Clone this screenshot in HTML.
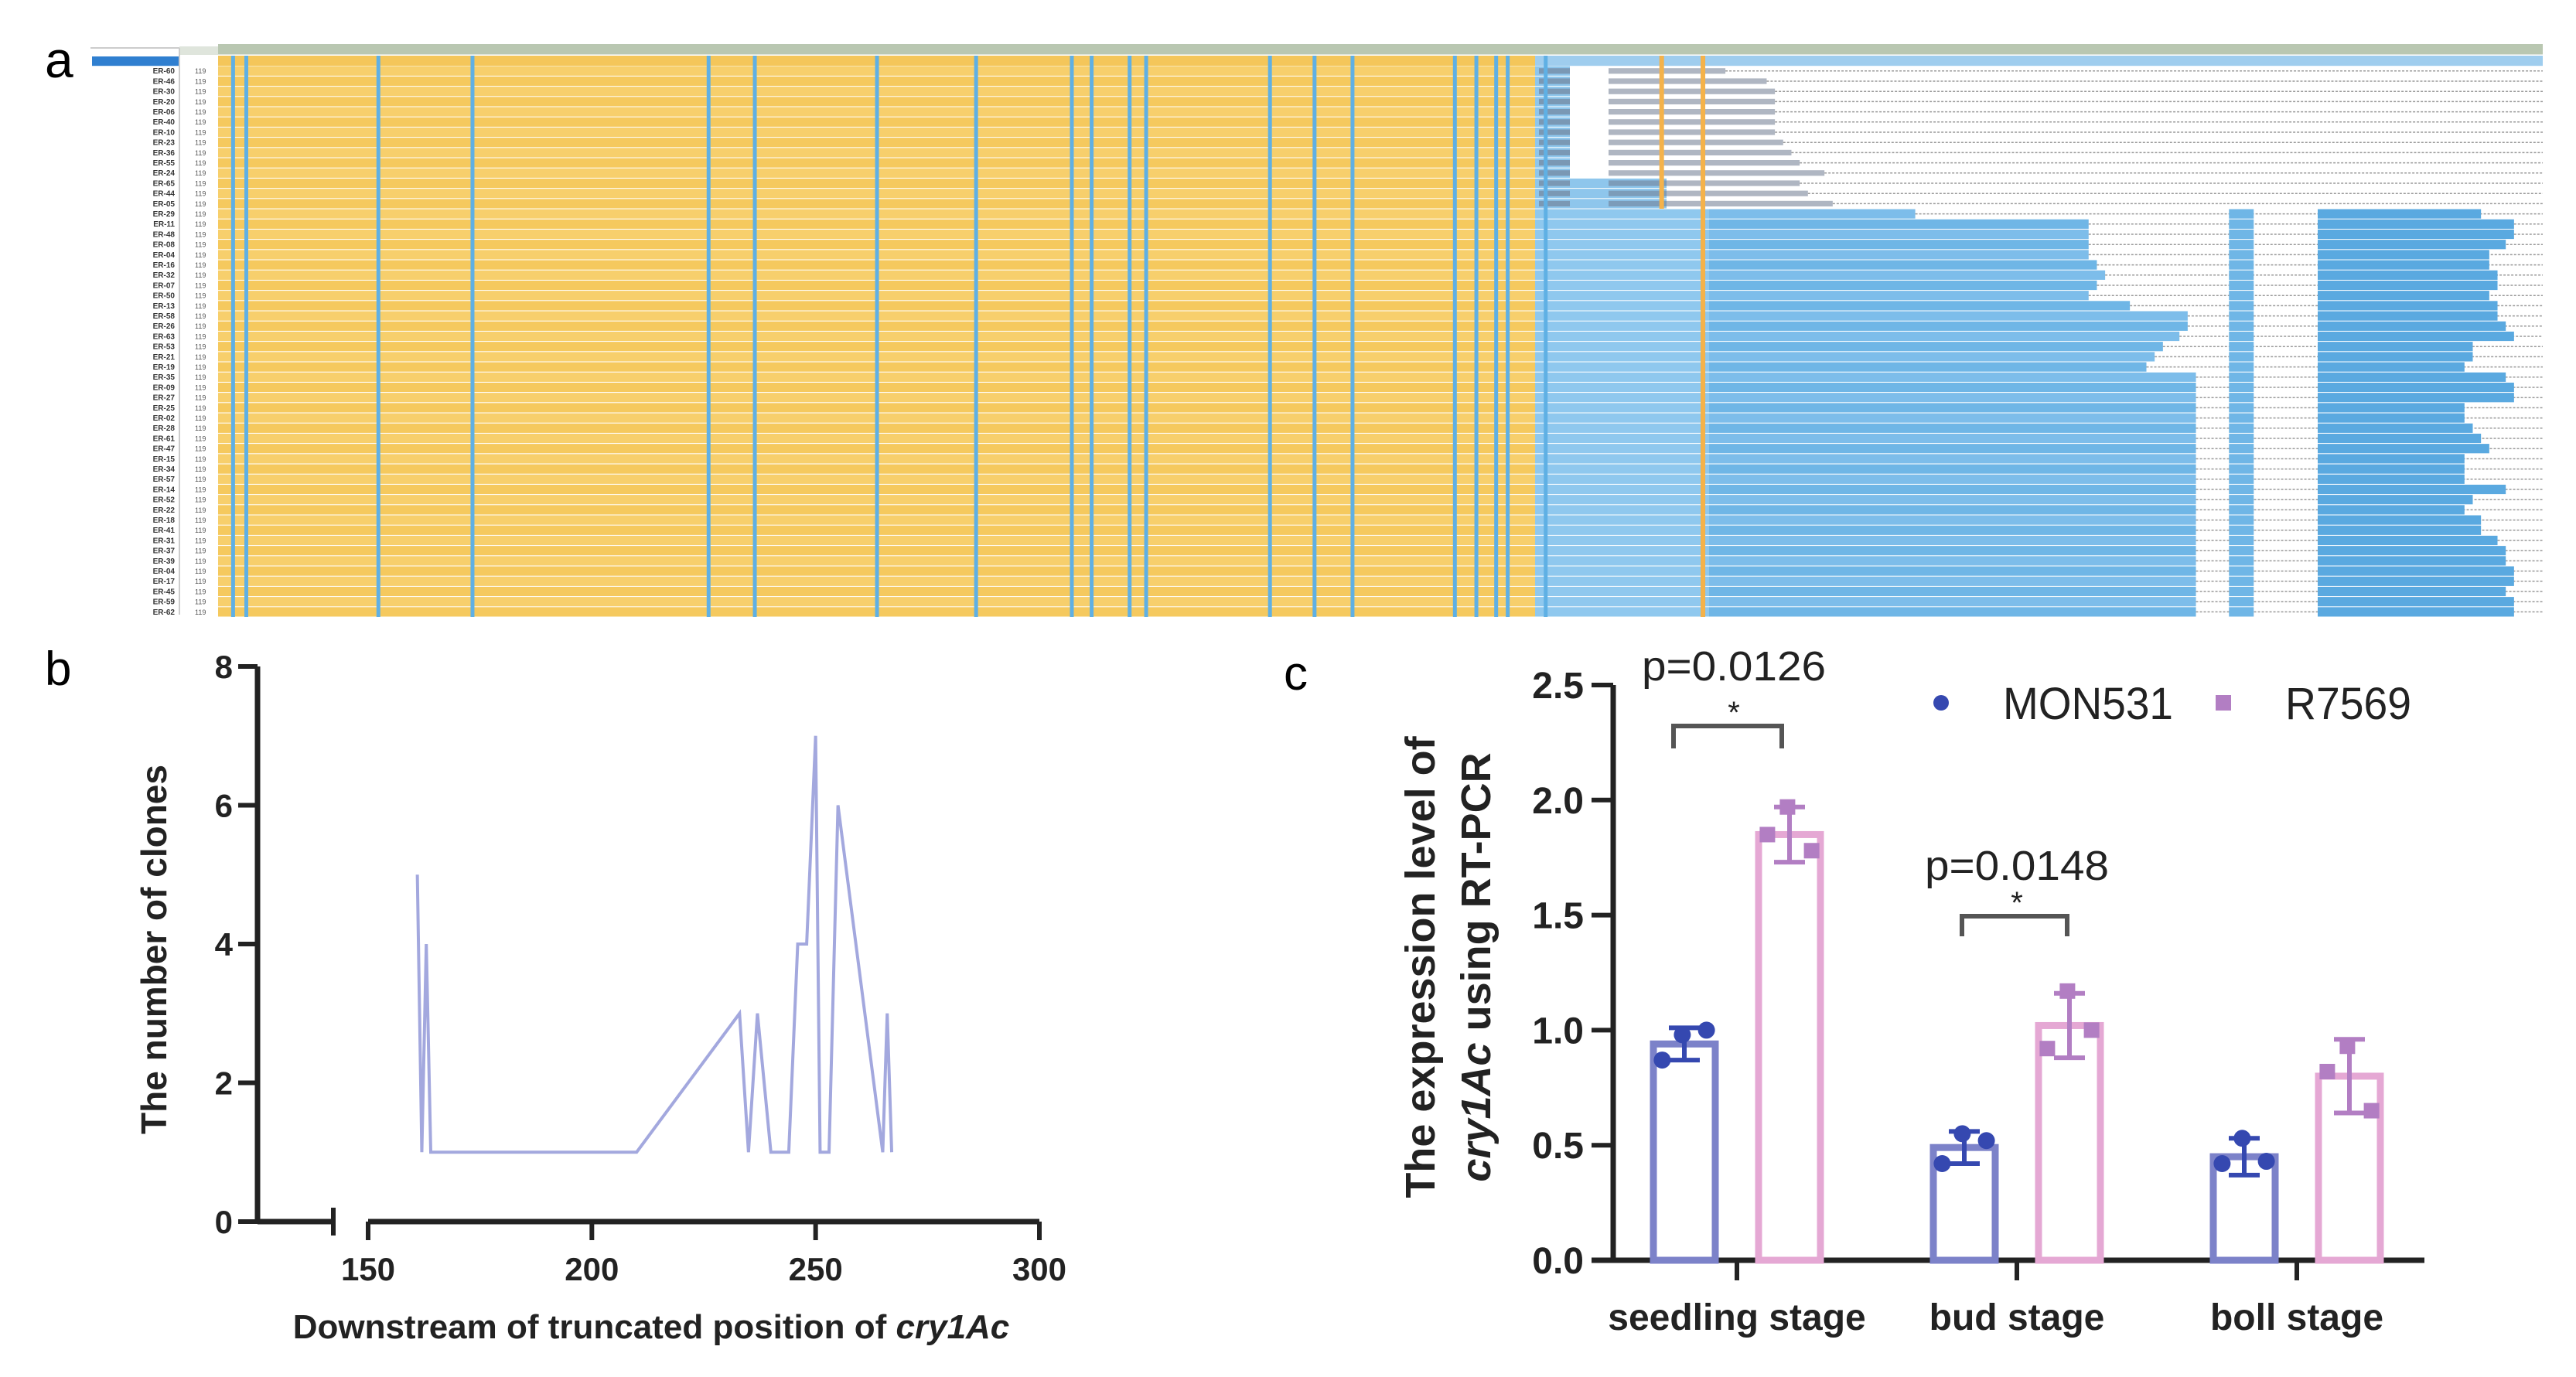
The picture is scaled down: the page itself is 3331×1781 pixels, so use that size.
<!DOCTYPE html>
<html><head><meta charset="utf-8"><style>
html,body{margin:0;padding:0;background:#fff;}
svg{display:block;font-family:"Liberation Sans",Arial,sans-serif;}
</style></head><body>
<svg id="fig" width="3331" height="1781" viewBox="0 0 3331 1781" xmlns="http://www.w3.org/2000/svg">
<g id="pa"></g>
<g id="pb"></g>
<g id="pc"></g>
<text x="58" y="100" font-size="66">a</text>
<text x="58" y="886" font-size="62">b</text>
<text x="1660" y="892" font-size="62">c</text>
</svg>
<script>
// ---------- Panel a data ----------
const rowNames = ["ER-60","ER-46","ER-30","ER-20","ER-06","ER-40","ER-10","ER-23","ER-36","ER-55","ER-24","ER-65","ER-44","ER-05","ER-29","ER-11","ER-48","ER-08","ER-04","ER-16","ER-32","ER-07","ER-50","ER-13","ER-58","ER-26","ER-63","ER-53","ER-21","ER-19","ER-35","ER-09","ER-27","ER-25","ER-02","ER-28","ER-61","ER-47","ER-15","ER-34","ER-57","ER-14","ER-52","ER-22","ER-18","ER-41","ER-31","ER-37","ER-39","ER-04","ER-17","ER-45","ER-59","ER-62"];
const rowEnds = [1045,1070,1075,1075,1075,1075,1075,1080,1085,1090,1105,1090,1095,1110,1160,1265,1265,1265,1265,1270,1275,1270,1265,1290,1325,1325,1320,1310,1305,1300,1330,1330,1330,1330,1330,1330,1330,1330,1330,1330,1330,1330,1330,1330,1330,1330,1330,1330,1330,1330,1330,1330,1330,1330];
const tailEnds = [0,0,0,0,0,0,0,0,0,0,0,0,0,0,1515,1535,1535,1530,1520,1520,1525,1525,1520,1525,1525,1530,1535,1510,1510,1505,1530,1535,1535,1505,1505,1510,1515,1520,1505,1505,1505,1530,1510,1505,1515,1515,1525,1530,1530,1535,1535,1530,1535,1535];
const stripes = [140,148,228,285,428,456,530,590,648,660,683,693,768,795,818,880,893,905,912,935];
(function(){
  const g=document.getElementById('pa');const NS='http://www.w3.org/2000/svg';
  const S=2.135, RE=3288;
  function mk(t,a){const e=document.createElementNS(NS,t);for(const k in a)e.setAttribute(k,a[k]);g.appendChild(e);return e;}
  mk('line',{x1:117,y1:62,x2:232,y2:62,stroke:'#ccc','stroke-width':2});
  let e=mk('rect',{x:232,y:60,width:RE-232,height:11,fill:'#dfe5dc'});
  e=mk('rect',{x:282,y:57,width:RE-282,height:13,fill:'#b9c7b1'});
  
  
  const top=72,rh=13.2,x0=282,yEnd=1985;
  e=mk('rect',{x:119,y:top+1,width:112,height:rh-1,fill:'#2f7fd0'});
  
  
  mk('line',{x1:232,y1:62,x2:232,y2:795,stroke:'#ccc','stroke-width':2});
  mk('rect',{x:x0,y:top,width:yEnd-x0,height:rh,fill:'#f4c65a'});
  mk('rect',{x:yEnd,y:top,width:RE-yEnd,height:rh,fill:'#9fcdee'});
  rowNames.forEach((n,i)=>{
    const y=top+rh*(i+1);
    let t=mk('text',{x:226,y:y+10,'font-size':10,'text-anchor':'end',fill:'#333','font-weight':'bold'});t.textContent=n;
    
    
    let c=mk('text',{x:252,y:y+10,'font-size':9,fill:'#555'});c.textContent='119';
    let r=mk('rect',{x:x0,y:y+0.5,width:yEnd-x0,height:rh-1,fill:(i%2?'#f5c95e':'#f7cf6c')});
    
    
    const end=rowEnds[i]*S;
    if(i<14){
      mk('rect',{x:yEnd,y:y+0.5,width:(i>=11?170:45),height:rh-1,fill:'#8ec6ec'});
      mk('rect',{x:yEnd+5,y:y+3,width:40,height:rh-6,fill:'#6d7a90',opacity:0.6});
      mk('rect',{x:yEnd+95,y:y+3,width:end-yEnd-95,height:rh-6,fill:'#6d7a90',opacity:0.55});
      mk('line',{x1:end,y1:y+rh/2,x2:RE,y2:y+rh/2,stroke:'#999','stroke-width':1.5,'stroke-dasharray':'3,2'});
    } else {
      mk('rect',{x:yEnd,y:y+0.5,width:2210-yEnd,height:rh-1,fill:'#8fc8ee'});
      let b=mk('rect',{x:2210,y:y+0.5,width:end-2210,height:rh-1,fill:(i%2?'#6fb6e6':'#7dbdea')});
      
      
      mk('line',{x1:end,y1:y+rh/2,x2:RE,y2:y+rh/2,stroke:'#999','stroke-width':1.5,'stroke-dasharray':'3,2'});
      mk('rect',{x:1350*S,y:y+0.5,width:15*S,height:rh-1,fill:'#6fb6e6'});
      mk('rect',{x:2997,y:y+0.5,width:(tailEnds[i]-1410)*S-13,height:rh-1,fill:'#5aa9e0'});
    }
  });
  const yb=top+rh*(rowNames.length+1);
  stripes.forEach(s=>{mk('rect',{x:s*S,y:top,width:5,height:yb-top,fill:'#5fb0e4'});});
  mk('rect',{x:1005*S,y:top,width:6,height:rh*15,fill:'#f4b24a'});
  mk('rect',{x:1030*S,y:top,width:6,height:yb-top,fill:'#f4b24a'});
})();

// ---------- Panel b data ----------
const posX = [161,162,163,164,165,210,233,235,237,240,244,246,248,250,251,253,255,265,266,267];
const clones = [5,1,4,1,1,1,3,1,3,1,1,4,4,7,1,1,6,1,3,1];
const bYTicks = [0,2,4,6,8];
const bXTicks = [150,200,250,300];
(function(){
  const g=document.getElementById('pb');const NS='http://www.w3.org/2000/svg';
  function mk(t,a){const e=document.createElementNS(NS,t);for(const k in a)e.setAttribute(k,a[k]);g.appendChild(e);return e;}
  const AX=333, Y0=1580, Y8=862;
  const X=v=>476+(v-150)*(1344-476)/150, Y=v=>Y0-v*(Y0-Y8)/8;
  let e=mk('line',{x1:AX,y1:Y(8),x2:AX,y2:Y0,stroke:'#222','stroke-width':7});
  
  e=mk('line',{x1:AX,y1:Y0,x2:431,y2:Y0,stroke:'#222','stroke-width':7});
  
  mk('line',{x1:431,y1:Y0-18,x2:431,y2:Y0+18,stroke:'#222','stroke-width':6});
  e=mk('line',{x1:476,y1:Y0,x2:1344,y2:Y0,stroke:'#222','stroke-width':7});
  
  bYTicks.forEach(t=>{mk('line',{x1:AX-25,y1:Y(t),x2:AX,y2:Y(t),stroke:'#222','stroke-width':6});
    const l=mk('text',{x:AX-32,y:Y(t)+15,'font-size':42,'font-weight':'bold','text-anchor':'end',fill:'#222'});l.textContent=t;
    });
  bXTicks.forEach(t=>{mk('line',{x1:X(t),y1:Y0,x2:X(t),y2:Y0+24,stroke:'#222','stroke-width':6});
    const l=mk('text',{x:X(t),y:Y0+76,'font-size':42,'font-weight':'bold','text-anchor':'middle',fill:'#222'});l.textContent=t;
    });
  const pts=posX.map((v,i)=>X(v)+','+Y(clones[i])).join(' ');
  e=mk('polyline',{points:pts,fill:'none',stroke:'#a3a8de','stroke-width':4,'stroke-linejoin':'miter'});
  
  let t=mk('text',{x:0,y:0,'font-size':46,'font-weight':'bold','text-anchor':'middle',fill:'#222',transform:'translate(215,1228) rotate(-90)'});
  t.textContent='The number of clones';
  t=mk('text',{x:842,y:1731,'font-size':44,'font-weight':'bold','text-anchor':'middle',fill:'#222'});
  t.innerHTML='Downstream of truncated position of <tspan font-style="italic">cry1Ac</tspan>';
  
})();

// ---------- Panel c data ----------
const stages = ["seedling stage","bud stage","boll stage"];
const monMean = [0.94,0.49,0.45];
const monSD = [0.07,0.07,0.08];
const monPts = [[0.98,0.87,1.0],[0.55,0.42,0.52],[0.53,0.42,0.43]];
const rMean = [1.85,1.02,0.80];
const rSD = [0.12,0.14,0.16];
const rPts = [[1.97,1.85,1.78],[1.17,0.92,1.0],[0.93,0.82,0.65]];
const cYTicks = [0,0.5,1.0,1.5,2.0,2.5];
const pLabels = ["p=0.0126","p=0.0148"];
(function(){
  const g=document.getElementById('pc');const NS='http://www.w3.org/2000/svg';
  function mk(t,a){const e=document.createElementNS(NS,t);for(const k in a)e.setAttribute(k,a[k]);g.appendChild(e);return e;}
  const AX=2086, Y0=1630;
  const Y=v=>Y0-v*(Y0-886)/2.5;
  const GX=i=>2246+i*362;
  const bw=80, blue='#7c82c9', pink='#e5a8d4', dot='#3548b0', sq='#b27ec3';
  let e=mk('line',{x1:AX,y1:Y(2.5),x2:AX,y2:Y0+3,stroke:'#222','stroke-width':7});
  
  e=mk('line',{x1:2058,y1:Y0,x2:3135,y2:Y0,stroke:'#222','stroke-width':7});
  
  cYTicks.forEach(t=>{mk('line',{x1:2058,y1:Y(t),x2:AX,y2:Y(t),stroke:'#222','stroke-width':6});
    const l=mk('text',{x:2048,y:Y(t)+17,'font-size':48,'font-weight':'bold','text-anchor':'end',fill:'#222'});l.textContent=t.toFixed(1);
    });
  function series(means,sds,pts,off,col,pcol,isSq,name){
    means.forEach((m,i)=>{
      const cx=GX(i)+off;
      let b=mk('rect',{x:cx-bw/2,y:Y(m),width:bw,height:Y0-Y(m),fill:'none',stroke:col,'stroke-width':9});
      
      mk('line',{x1:cx,y1:Y(m+sds[i]),x2:cx,y2:Y(m-sds[i]),stroke:pcol,'stroke-width':6});
      mk('line',{x1:cx-20,y1:Y(m+sds[i]),x2:cx+20,y2:Y(m+sds[i]),stroke:pcol,'stroke-width':6});
      mk('line',{x1:cx-20,y1:Y(m-sds[i]),x2:cx+20,y2:Y(m-sds[i]),stroke:pcol,'stroke-width':6});
      const offs=[-2,-22,22];
      pts[i].forEach((p,j)=>{
        let s;
        if(isSq) s=mk('rect',{x:cx+offs[j]*1.3-10,y:Y(p)-10,width:20,height:20,fill:pcol});
        else s=mk('circle',{cx:cx+offs[j]*1.3,cy:Y(p),r:11,fill:pcol});
        
      });
    });
  }
  series(monMean,monSD,monPts,-68,blue,dot,false,'mon531');
  series(rMean,rSD,rPts,68,pink,sq,true,'r7569');
  stages.forEach((s,i)=>{mk('line',{x1:GX(i),y1:Y0,x2:GX(i),y2:Y0+26,stroke:'#222','stroke-width':6});
    const l=mk('text',{x:GX(i),y:1720,'font-size':48,'font-weight':'bold','text-anchor':'middle',fill:'#222'});l.textContent=s;
    });
  const br=[[2164,2304,939,968,2242,880],[2537,2673,1185,1211,2608,1138]];
  br.forEach((b,i)=>{
    let p=mk('polyline',{points:`${b[0]},${b[3]} ${b[0]},${b[2]} ${b[1]},${b[2]} ${b[1]},${b[3]}`,fill:'none',stroke:'#555','stroke-width':6});
    
    let s=mk('text',{x:b[4],y:b[2]-4,'font-size':40,'text-anchor':'middle',fill:'#222'});s.textContent='*';
    
    let t=mk('text',{x:b[4],y:b[5],'font-size':54,'text-anchor':'middle',fill:'#222',textLength:238,lengthAdjust:'spacingAndGlyphs'});t.textContent=pLabels[i];
    
  });
  let c=mk('circle',{cx:2510,cy:909,r:10,fill:dot});
  let t=mk('text',{x:2590,y:930,'font-size':58,fill:'#222',textLength:220,lengthAdjust:'spacingAndGlyphs'});t.textContent='MON531';
  c=mk('rect',{x:2865,y:899,width:20,height:20,fill:sq});
  t=mk('text',{x:2955,y:930,'font-size':58,fill:'#222',textLength:163,lengthAdjust:'spacingAndGlyphs'});t.textContent='R7569';
  t=mk('text',{x:0,y:0,'font-size':54,'font-weight':'bold','text-anchor':'middle',fill:'#222',transform:'translate(1855,1251) rotate(-90)'});
  t.textContent='The expression level of';
  t=mk('text',{x:0,y:0,'font-size':54,'font-weight':'bold','text-anchor':'middle',fill:'#222',transform:'translate(1927,1251) rotate(-90)'});
  t.innerHTML='<tspan font-style="italic">cry1Ac</tspan> using RT-PCR';
})();
</script>
</body></html>
